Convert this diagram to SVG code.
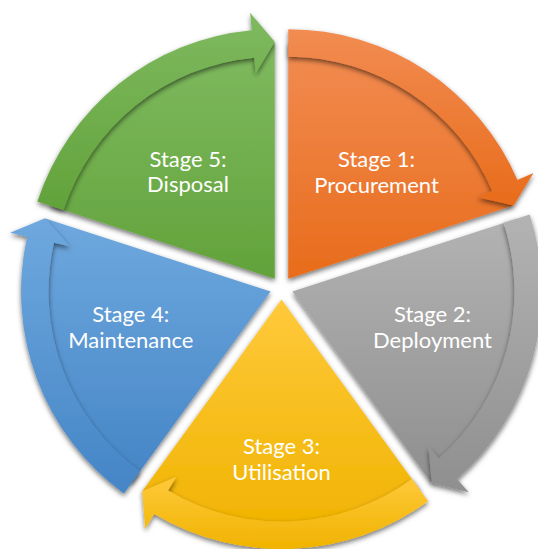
<svg xmlns="http://www.w3.org/2000/svg" width="538" height="549" viewBox="0 0 538 549">
  <defs>
    <style>
      .lbl { font-family: Lato, "Liberation Sans", sans-serif; font-size: 22px; fill: #ffffff; text-anchor: middle; }
      .sh { filter: url(#shadow); }
    </style>
    <filter id="shadow" x="-15%" y="-15%" width="130%" height="130%">
      <feDropShadow dx="0" dy="2.5" stdDeviation="2.5" flood-color="#000000" flood-opacity="0.55"/>
    </filter>
    <linearGradient id="gOrange" x1="0" y1="0" x2="0" y2="1">
      <stop offset="0" stop-color="#F28C52"/>
      <stop offset="1" stop-color="#E86C1B"/>
    </linearGradient>
    <linearGradient id="gGray" x1="0" y1="0" x2="0" y2="1">
      <stop offset="0" stop-color="#B3B3B3"/>
      <stop offset="1" stop-color="#8F8F8F"/>
    </linearGradient>
    <linearGradient id="gYellow" x1="0" y1="0" x2="0" y2="1">
      <stop offset="0" stop-color="#FFC93B"/>
      <stop offset="1" stop-color="#F0B300"/>
    </linearGradient>
    <linearGradient id="gBlue" x1="0" y1="0" x2="0" y2="1">
      <stop offset="0" stop-color="#6EA8DE"/>
      <stop offset="1" stop-color="#4585C6"/>
    </linearGradient>
    <linearGradient id="gGreen" x1="0" y1="0" x2="0" y2="1">
      <stop offset="0" stop-color="#7FBA60"/>
      <stop offset="1" stop-color="#62A23A"/>
    </linearGradient>
  </defs>

  <g id="stage1">
    <path class="sh" fill="url(#gOrange)" d="M288.26,278.70 L288.26,42.70 A236,236 0 0 1 512.71,205.77 Z"/>
  </g>
  <g id="stage2">
    <path class="sh" fill="url(#gGray)" d="M292.44,291.55 L516.89,218.63 A236,236 0 0 1 431.15,482.48 Z"/>
  </g>
  <g id="stage3">
    <path class="sh" fill="url(#gYellow)" d="M281.5,299.5 L420.22,490.43 A236,236 0 0 1 142.78,490.43 Z"/>
  </g>
  <g id="stage4">
    <path class="sh" fill="url(#gBlue)" d="M270.56,291.55 L131.85,482.48 A236,236 0 0 1 46.11,218.63 Z"/>
  </g>
  <g id="stage5">
    <path class="sh" fill="url(#gGreen)" d="M274.74,278.70 L50.29,205.77 A236,236 0 0 1 274.74,42.70 Z"/>
  </g>

  <g id="connectors">
    <path class="sh" fill="url(#gOrange)" d="M288.26,29.20 A249.5,249.5 0 0 1 517.41,180.01 L533.49,173.09 L513.66,205.46 L477.46,197.21 L492.16,190.89 A222,222 0 0 0 288.26,56.70 Z"/>
    <path class="sh" fill="url(#gGray)" d="M529.73,214.45 A249.5,249.5 0 0 1 457.11,478.99 L468.66,492.14 L431.74,483.29 L428.40,446.31 L438.96,458.34 A222,222 0 0 0 503.57,222.95 Z"/>
    <path class="sh" fill="url(#gYellow)" d="M428.15,501.35 A249.5,249.5 0 0 1 154.12,514.03 L145.19,529.08 L142.20,491.24 L176.33,476.63 L168.16,490.39 A222,222 0 0 0 411.99,479.10 Z"/>
    <path class="sh" fill="url(#gBlue)" d="M123.91,493.40 A249.5,249.5 0 0 1 27.17,236.70 L10.10,232.86 L45.16,218.32 L69.60,246.27 L53.99,242.75 A222,222 0 0 0 140.08,471.16 Z"/>
    <path class="sh" fill="url(#gGreen)" d="M37.45,201.60 A249.5,249.5 0 0 1 251.69,30.26 L250.08,12.84 L274.74,41.70 L255.71,73.58 L254.23,57.65 A222,222 0 0 0 63.61,210.09 Z"/>
  </g>

  <g id="labels">
    <text class="lbl" x="376.5" y="166.5">Stage 1:</text>
    <text class="lbl" x="376.5" y="192.5">Procurement</text>
    <text class="lbl" x="432.5" y="322">Stage 2:</text>
    <text class="lbl" x="432.5" y="348">Deployment</text>
    <text class="lbl" x="281.5" y="453.5">Stage 3:</text>
    <text class="lbl" x="281.5" y="479.5">Utilisation</text>
    <text class="lbl" x="130.8" y="322">Stage 4:</text>
    <text class="lbl" x="130.8" y="348">Maintenance</text>
    <text class="lbl" x="188" y="166.5">Stage 5:</text>
    <text class="lbl" x="188" y="192">Disposal</text>
  </g>
</svg>
